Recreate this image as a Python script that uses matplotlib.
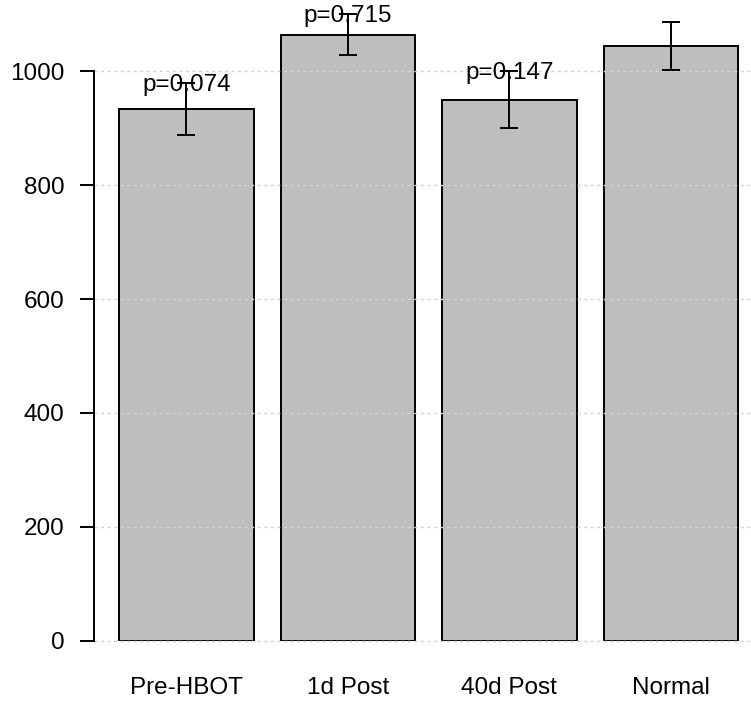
import matplotlib
matplotlib.use("Agg")
import matplotlib.pyplot as plt

plt.rcParams['font.family'] = ['Liberation Sans', 'DejaVu Sans']

# values
groups = ["Pre-HBOT", "1d Post", "40d Post", "Normal"]
means = [934, 1064, 950, 1044]
errors = [45, 36, 50, 42]
p_labels = ["p=0.074", "p=0.715", "p=0.147", ""]
y_ticks = [0, 200, 400, 600, 800, 1000]

DPI = 100
FS = 17.5
fig = plt.figure(figsize=(7.51, 7.02), dpi=DPI)
ax = fig.add_axes([94.3 / 751, (702 - 640.7) / 702, (751 - 94.3) / 751, 640.7 / 702])

# R barplot layout: width 1, space 0.2
centers = [0.2 + 0.5 + i * 1.2 for i in range(len(groups))]

ax.bar(centers, means, width=1.0, color="#BEBEBE", edgecolor="black",
       linewidth=1.4, zorder=2)
ax.errorbar(centers, means, yerr=errors, fmt="none", ecolor="black",
            elinewidth=1.4, capsize=6.7, capthick=1.4, zorder=3)

for x, m, e, lab in zip(centers, means, errors, p_labels):
    if lab:
        ax.annotate(lab, xy=(x, m + e), xytext=(0, -8), textcoords="offset pixels",
                    ha="center", va="baseline", fontsize=FS, zorder=4)

# dotted grid, drawn over the bars like the original
for t in y_ticks:
    ax.axhline(t, color="#D3D3D3", linestyle=(0, (2.2, 2.5)), linewidth=1.0,
               zorder=2.5, clip_on=False)

ax.set_xlim(0.0164, 0.0164 + (751 - 94.3) / 134.6)
ax.set_ylim(0, 640.7 / 0.5694)

for side in ["top", "right", "bottom"]:
    ax.spines[side].set_visible(False)
ax.spines["left"].set_bounds(0, 1000)
ax.spines["left"].set_linewidth(1.4)

ax.set_yticks(y_ticks)
ax.set_yticklabels([str(t) for t in y_ticks])
ax.tick_params(axis="y", length=10, width=1.4, pad=11.5, labelsize=FS)
ax.set_xticks(centers)
ax.set_xticklabels(groups)
ax.tick_params(axis="x", length=0, pad=26, labelsize=FS)

fig.savefig("out.png", dpi=DPI)
plt.close(fig)
